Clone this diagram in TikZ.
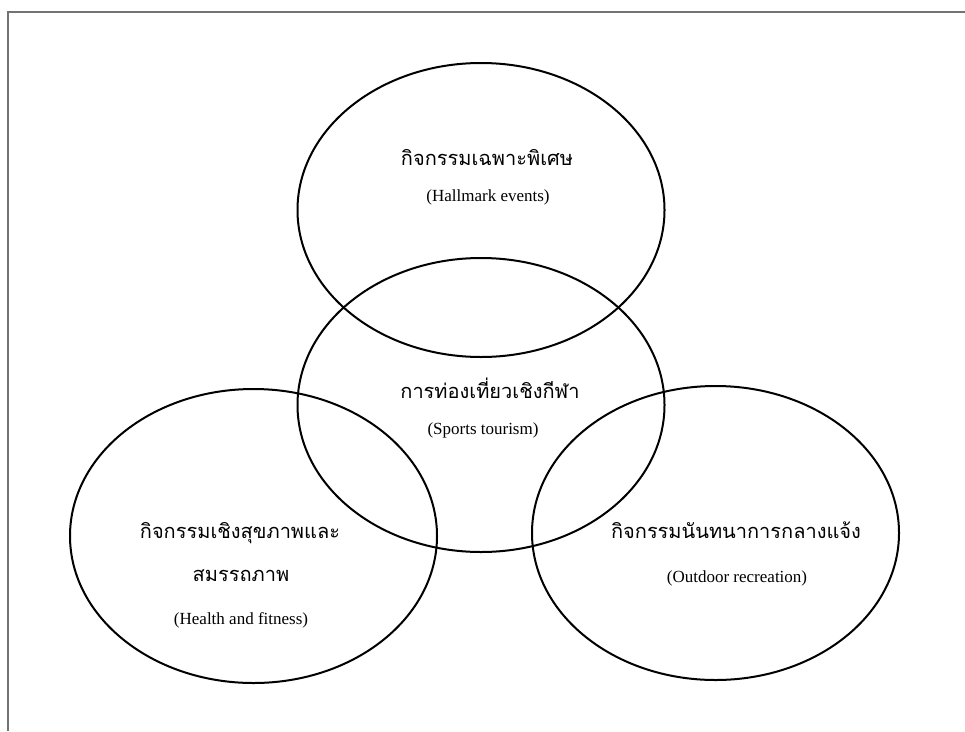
\documentclass[tikz,border=0pt]{standalone}
\usepackage{fontspec}
\setmainfont{Liberation Serif}
\newfontfamily\thaifont[Script=Thai]{Loma}
\begin{document}
\begin{tikzpicture}[x=1pt,y=-1pt,
  ring/.style={line width=2pt,black},
  frameline/.style={line width=1.4pt,black!55},
  thlabel/.style={font=\thaifont\fontsize{20}{24}\selectfont,inner sep=0pt,anchor=base},
  enlabel/.style={font=\fontsize{17}{20}\selectfont,inner sep=0pt,anchor=base}]
  \useasboundingbox (0,0) rectangle (965,731);
  % page frame (top and left edges)
  \draw[frameline] (965,12) -- (8,12) -- (8,731);
  % four overlapping ellipses
  \draw[ring] (481,210) ellipse [x radius=183.5, y radius=147];
  \draw[ring] (481,405) ellipse [x radius=183.5, y radius=147];
  \draw[ring] (253.5,536) ellipse [x radius=183.5, y radius=147];
  \draw[ring] (715.5,533) ellipse [x radius=183.5, y radius=147];
  % labels
  \node[thlabel] (hallth) at (487,165) {กิจกรรมเฉพาะพิเศษ};
  \node[enlabel] (hallen) at (488,201) {(Hallmark events)};
  \node[thlabel] (sportth) at (490,398) {การท่องเที่ยวเชิงกีฬา};
  \node[enlabel] (sporten) at (483,434) {(Sports tourism)};
  \node[thlabel] (healthth) at (240,538) {กิจกรรมเชิงสุขภาพและ};
  \node[thlabel] (healthtb) at (241,581) {สมรรถภาพ};
  \node[enlabel] (healthen) at (241,624) {(Health and fitness)};
  \node[thlabel] (outth) at (736,538) {กิจกรรมนันทนาการกลางแจ้ง};
  \node[enlabel] (outen) at (737,582) {(Outdoor recreation)};
\end{tikzpicture}
\end{document}
